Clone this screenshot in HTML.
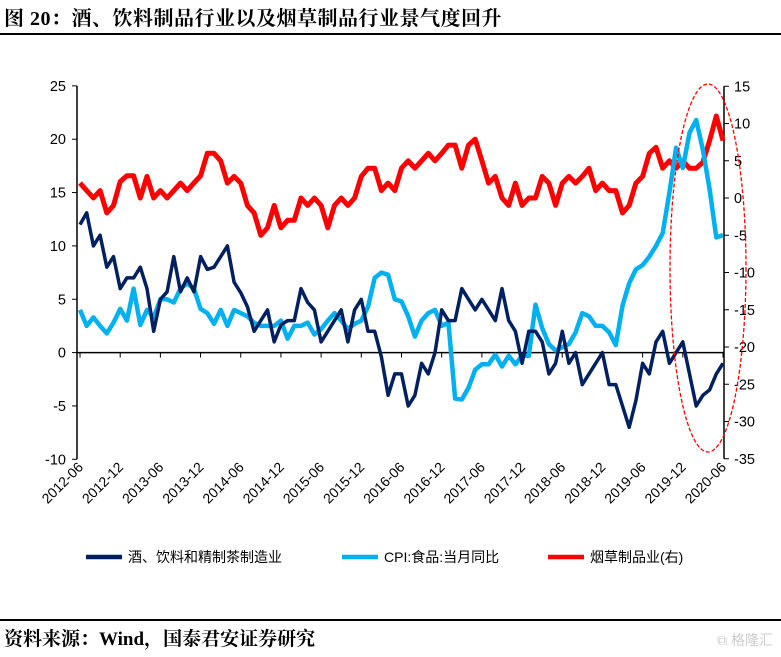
<!DOCTYPE html>
<html><head><meta charset="utf-8">
<style>
body{margin:0;width:781px;height:657px;background:#fff;overflow:hidden;font-family:"Liberation Serif","Noto Serif CJK SC",serif;}
#title{position:absolute;left:4px;top:2px;font-size:20px;font-weight:bold;color:#000;letter-spacing:0.5px}
#tline{position:absolute;left:0;top:33px;width:781px;height:2px;background:#000}
#fline{position:absolute;left:0;top:619px;width:781px;height:2px;background:#000}
#footer{position:absolute;left:4px;top:624px;font-size:19px;font-weight:bold}
#wm{position:absolute;right:8px;top:630px;font-size:14px;color:#ccc;font-family:"Liberation Sans","Noto Sans CJK SC",sans-serif}
svg{position:absolute;left:0;top:0}
</style></head><body>
<div id="title">图 20：酒、饮料制品行业以及烟草制品行业景气度回升</div>
<div id="tline"></div>
<svg id="chart" width="781" height="657"></svg>
<div id="fline"></div>
<div id="footer">资料来源：Wind，国泰君安证券研究</div>
<div id="wm">⧉ 格隆汇</div>
<script>
const xLabels=["2012-06","2012-12","2013-06","2013-12","2014-06","2014-12","2015-06","2015-12","2016-06","2016-12","2017-06","2017-12","2018-06","2018-12","2019-06","2019-12","2020-06"];
const leftTicks=[25,20,15,10,5,0,-5,-10];
const rightTicks=[15,10,5,0,-5,-10,-15,-20,-25,-30,-35];
const navy=[12,13.1,10,11,8,9,6,7,7,8,6,2,5,5.7,9,5.7,7,5.7,9,7.8,8,9,10,6.6,5.6,4.3,2,3,4,1,2.6,3,3,6,4.7,4,1,2,3,4,1,4,5,2,2,-0.4,-4,-2,-2,-5,-4,-1,-2,0,4,3,3,6,5,4,5,4,3,6,3,2,-1,2,2,1,-2,-1,2,-1,0,-3,-2,-1,0,-3,-3,-5,-7,-4.5,-1,-2,1,2,-1,0,1,-2,-5,-4,-3.5,-2,-1];
const cpi=[4,2.5,3.3,2.5,1.8,2.8,4.1,3,6,2.6,4,3.3,5,5,4.7,6,6.5,6,4.1,3.7,2.7,4,2.5,4,3.7,3.4,2.8,2.5,2.5,2.5,3,1.3,2.5,2.5,2.8,1.7,2.2,3,3.7,3,2.2,2.7,3,4.3,7,7.5,7.3,5,4.8,3.4,1.5,3,3.7,4,2.5,2.8,-4.3,-4.4,-3.3,-1.6,-1.1,-1.1,-0.2,-1.3,-0.3,-1.1,-0.3,-0.3,4.5,2.3,0.8,0.2,0.5,0.8,1.9,3.7,3.4,2.5,2.5,1.9,0.7,4.4,6.5,7.8,8.2,9,10,11.2,15,19.2,17.3,20.6,21.8,19,15.3,10.8,11];
const tobacco=[2,1,0,1,-2,-1,2.2,3,3,0,2.9,0,1,0,1,2,1,2,3,6,6,5,2,2.9,2,-1,-2,-5,-4,-1,-4,-3,-3,0,-1,0,-1,-4,-1,0,-1,0,2.9,4,4,1,2,1,4,5,4,5,6,5,6,7.1,7.1,4,7.1,7.9,5,2,2.9,0,-1,2,-1,0,0,2.9,2,-1,2,2.9,2,2.9,4,1,2,1,1,-2,-1,2,2.9,6,6.8,4,5,4,5,4,4,4.8,7.7,11,7.7];
const svg=document.getElementById('chart');
const NS='http://www.w3.org/2000/svg';
const X0=80,X1=723,Y0=352.6,LU=10.67,R0=198,RU=7.45;
function xs(i){return X0+(X1-X0)*i/96;}
function yl(v){return Y0-v*LU;}
function yr(v){return R0-v*RU;}
function mk(t,a){const e=document.createElementNS(NS,t);for(const k in a)e.setAttribute(k,a[k]);svg.appendChild(e);return e;}
let e=mk('line',{x1:77,y1:yl(25),x2:77,y2:yl(-10),stroke:'#000','stroke-width':1.5});


e=mk('line',{x1:724,y1:yr(15),x2:724,y2:yr(-35),stroke:'#000','stroke-width':1.5});


e=mk('line',{x1:77,y1:yl(0),x2:724,y2:yl(0),stroke:'#000','stroke-width':1.5});


leftTicks.forEach(v=>{
 mk('line',{x1:72,y1:yl(v),x2:77,y2:yl(v),stroke:'#000'});
 const t=mk('text',{x:66,y:yl(v)+5,'text-anchor':'end','font-size':14.5,'font-family':'Liberation Sans, sans-serif'});
 t.textContent=v;
 
 
});
rightTicks.forEach(v=>{
 mk('line',{x1:724,y1:yr(v),x2:729,y2:yr(v),stroke:'#000'});
 const t=mk('text',{x:734,y:yr(v)+5,'text-anchor':'start','font-size':14.5,'font-family':'Liberation Sans, sans-serif'});
 t.textContent=v;
 
 
});
xLabels.forEach((l,k)=>{
 const x=xs(k*6);
 mk('line',{x1:x,y1:yl(0),x2:x,y2:yl(0)+5,stroke:'#000'});
 const t=mk('text',{x:x+4,y:468,'text-anchor':'end','font-size':14,'font-family':'Liberation Sans, sans-serif',transform:`rotate(-45 ${x+4} 468)`});
 t.textContent=l;
 
 
});
function line(arr,f,c,w,name){
 const d=arr.map((v,i)=>(i?'L':'M')+xs(i).toFixed(1)+' '+f(v).toFixed(1)).join(' ');
 const p=mk('path',{d:d,fill:'none',stroke:c,'stroke-width':w,'stroke-linejoin':'round'});
 
 
}
line(tobacco,yr,'#ff0000',5,'tobacco-line');
line(cpi,yl,'#00b0f0',4.5,'cpi-food-line');
line(navy,yl,'#002060',3.5,'beverage-line');
e=mk('ellipse',{cx:708,cy:268,rx:38,ry:184,fill:'none',stroke:'#ff0000','stroke-width':1.3,'stroke-dasharray':'4 2'});


const leg=[['#002060','酒、饮料和精制茶制造业',86],['#00b0f0','CPI:食品:当月同比',342],['#ff0000','烟草制品业(右)',548]];
leg.forEach(([c,t,x])=>{
 const l=mk('line',{x1:x,y1:557,x2:x+36,y2:557,stroke:c,'stroke-width':4.5});
 
 
 const tx=mk('text',{x:x+42,y:562,'font-size':14,'font-family':'Liberation Sans, Noto Sans CJK SC, sans-serif'});
 tx.textContent=t;
 
 
});
</script>
</body></html>
